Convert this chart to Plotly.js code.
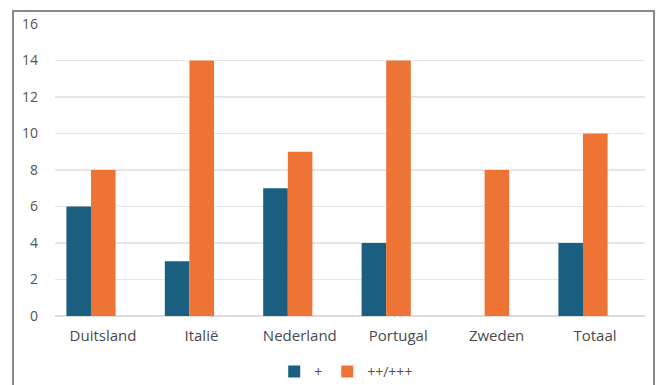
<!DOCTYPE html>
<html>
<head>
<meta charset="utf-8">
<script src="https://cdn.plot.ly/plotly-3.0.1.min.js"></script>
<style>
html,body{margin:0;padding:0;background:#fff;}
#wrap{position:relative;width:656px;height:385px;overflow:hidden;}
#chart{position:absolute;left:0;top:0;width:656px;height:385px;}
#frame{position:absolute;left:12px;top:10px;width:643px;height:390px;border:2px solid #8a8a8a;box-sizing:border-box;pointer-events:none;}
</style>
</head>
<body>
<div id="wrap">
<div id="chart"></div>
<div id="frame"></div>
</div>
<script>
var categories = ["Duitsland", "Italië", "Nederland", "Portugal", "Zweden", "Totaal"];
var seriesPlus = [6, 3, 7, 4, null, 4];
var seriesPlusPlus = [8, 14, 9, 14, 8, 10];
var seriesNames = ["+", "++/+++"];
var yTicks = [0, 2, 4, 6, 8, 10, 12, 14, 16];

var data = [
  {type: "bar", x: categories, y: seriesPlus, name: seriesNames[0], marker: {color: "#1a5e80"}},
  {type: "bar", x: categories, y: seriesPlusPlus, name: seriesNames[1], marker: {color: "#ed7434"}}
];
var layout = {
  width: 656, height: 385,
  margin: {l: 55, r: 11, t: 24, b: 69},
  paper_bgcolor: "rgba(0,0,0,0)",
  plot_bgcolor: "#fff",
  barmode: "group",
  bargap: 0.5,
  bargroupgap: 0,
  font: {family: "'Open Sans', Roboto, sans-serif", color: "#505050", size: 14},
  xaxis: {showgrid: false, showline: false, ticks: "", range: [-0.366, 5.63],
          ticklabelstandoff: 9, ticklabelshift: 12,
          tickfont: {size: 15, color: "#4a4a4a"}, automargin: false},
  yaxis: {range: [0, 16], tickvals: yTicks, showgrid: true, gridcolor: "#e6e6e6", gridwidth: 1.5,
          zeroline: true, zerolinecolor: "#dcdcdc", zerolinewidth: 1.5, ticks: "", ticklabelstandoff: 16,
          tickfont: {size: 14, color: "#555555"}, automargin: false},
  showlegend: true,
  legend: {orientation: "h", x: 0.418, xref: "container", xanchor: "left",
           y: 0.034, yref: "container", yanchor: "middle",
           font: {size: 14, color: "#505050"}, itemwidth: 30, traceorder: "normal"}
};
Plotly.newPlot("chart", data, layout, {displayModeBar: false, staticPlot: true});
</script>
</body>
</html>
